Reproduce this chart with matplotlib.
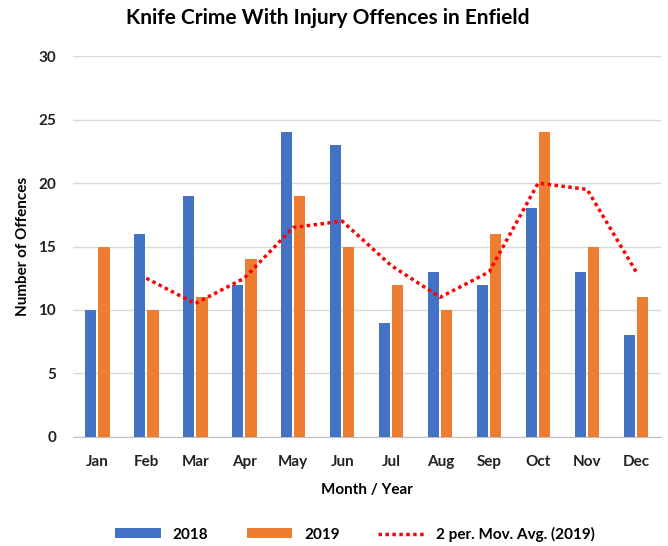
import numpy as np
import pandas as pd
import matplotlib
matplotlib.use('Agg')
import matplotlib.pyplot as plt

plt.rcParams['font.family'] = ['Lato', 'DejaVu Sans']

meses = ['Jan', 'Feb', 'Mar', 'Apr', 'May', 'Jun', 'Jul', 'Aug', 'Sep', 'Oct', 'Nov', 'Dec']
valores_2018 = [10, 16, 19, 12, 24, 23, 9, 13, 12, 18, 13, 8]
valores_2019 = [15, 10, 11, 14, 19, 15, 12, 10, 16, 24, 15, 11]

# media movel de 2 periodos (2019)
media_movel = pd.Series(valores_2019).rolling(2).mean()

fig = plt.figure(figsize=(6.68, 5.46), dpi=100)
ax = fig.add_axes([0.109, 0.2, 0.88, 0.697])

x = np.arange(len(meses))
largura = 0.23
b1 = ax.bar(x - 0.135, valores_2018, largura, color='#4472C4', label='2018', zorder=3)
b2 = ax.bar(x + 0.135, valores_2019, largura, color='#ED7D31', label='2019', zorder=3)
l1, = ax.plot(x, media_movel, color='#FF0000', linestyle=(0, (1, 1)), linewidth=2.5,
              label='2 per. Mov. Avg. (2019)', zorder=4)

ax.set_ylim(0, 30)
ax.set_yticks(range(0, 31, 5))
ax.set_xlim(-0.5, 11.5)
ax.set_xticks(x)
ax.set_xticklabels(meses)
ax.tick_params(axis='y', length=0, labelsize=11, pad=12)
ax.tick_params(axis='x', length=0, labelsize=11, pad=13)
for lbl in ax.get_xticklabels() + ax.get_yticklabels():
    lbl.set_fontweight('bold')
    lbl.set_color('#222222')

ax.grid(axis='y', color='#D9D9D9', linewidth=1, zorder=0)
for lado in ['top', 'right', 'left']:
    ax.spines[lado].set_visible(False)
ax.spines['bottom'].set_color('#BFBFBF')

ax.set_xlabel('Month / Year', fontsize=11, fontweight='bold', labelpad=10)
ax.set_ylabel('Number of Offences', fontsize=11, fontweight='bold', labelpad=6)
fig.suptitle('Knife Crime With Injury Offences in Enfield', fontsize=15, fontweight='bold',
             x=0.49, y=0.985)

ax.legend(handles=[b1, b2, l1], loc='upper center', bbox_to_anchor=(0.48, -0.2), ncol=3,
          frameon=False, prop={'weight': 'bold', 'size': 11}, handlelength=3,
          handleheight=0.6, columnspacing=2.5)

fig.savefig('out.png', dpi=100)
